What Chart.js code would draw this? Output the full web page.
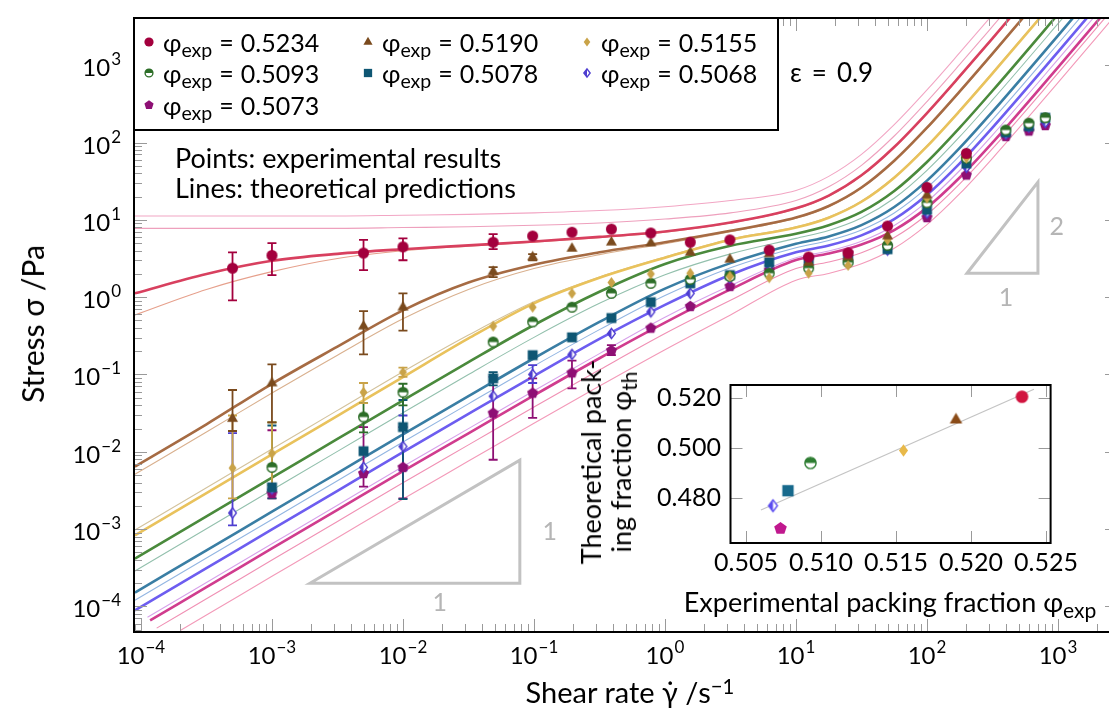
<!DOCTYPE html>
<html><head><meta charset="utf-8">
<script src="https://cdn.jsdelivr.net/npm/chart.js@4.4.1/dist/chart.umd.min.js"></script>
<style>
html,body{margin:0;padding:0;background:#fff;overflow:hidden;}
#wrap{position:relative;width:1109px;height:712px;overflow:hidden;font-family:Lato,"DejaVu Sans",sans-serif;color:#000;background:#fff;}
canvas{position:absolute;}
.t{position:absolute;white-space:nowrap;line-height:1;}
sub{font-size:0.78em;vertical-align:baseline;position:relative;top:0.28em;}
sup{font-size:0.7em;vertical-align:baseline;position:relative;top:-0.45em;}
#legend{position:absolute;left:133px;top:17px;width:646px;height:114px;box-sizing:border-box;border:2px solid #000;background:#fff;}
.li{position:absolute;font-size:25px;white-space:nowrap;transform:translateY(-50%);line-height:1;}
.lm{transform:translate(-50%,-50%);}
.eq{margin:0 7px;}
.eq2{margin:0 10px;}
</style></head>
<body><div id="wrap">
<canvas id="main" width="1130" height="712" style="left:0;top:0"></canvas>
<canvas id="inset" width="549" height="270" style="left:560px;top:370px"></canvas>
<div id="legend"></div>
<div class="t" style="left:790px;top:72px;font-size:26px;transform:translateY(-50%)">ε<span class="eq2">=</span>0.9</div>
<div class="t" style="left:175px;top:157px;font-size:27px;transform:translateY(-50%)">Points: experimental results</div>
<div class="t" style="left:175px;top:187px;font-size:27px;transform:translateY(-50%)">Lines: theoretical predictions</div>
<div class="t" style="left:32px;top:324px;font-size:30px;transform:translate(-50%,-50%) rotate(-90deg)">Stress σ /Pa</div>
<div class="t" style="left:630px;top:691px;font-size:29px;transform:translate(-50%,-50%)">Shear rate γ̇ /s<sup>−1</sup></div>
<div class="t" style="left:890px;top:601px;font-size:27px;transform:translate(-50%,-50%)">Experimental packing fraction φ<sub>exp</sub></div>
<div class="t" style="left:607px;top:462px;font-size:27px;transform:translate(-50%,-50%) rotate(-90deg);text-align:center;line-height:30px">Theoretical pack-<br>ing fraction φ<sub>th</sub></div>
</div>
<script>
// ---------------- DATA ----------------
// experimental shear rates (s^-1)
const DATA_X = [5e-4,1e-3,5e-3,1e-2,0.0488,0.0977,0.195,0.39,0.78,1.56,3.13,6.25,12.5,25,50,100,200,400,600,800];
const PHI_EXP = [0.5234,0.5190,0.5155,0.5093,0.5078,0.5068,0.5073];
const PHI_TH  = [0.5206,0.5113,0.4991,0.4941,0.4830,0.4770,0.4679];

const RED_Y = [2.37,3.47,3.72,4.47,5.13,6.17,6.92,7.59,6.76,5.13,5.50,4.07,3.31,3.72,8.32,26.3,72.4,null,null,null];
const RED_LO = [0.91,1.93,2.24,3.00,4.17,null,null,null,null,null,null,null,null,null,null,null,null,null,null,null];
const RED_HI = [3.80,5.00,5.50,5.75,6.53,null,null,null,null,null,null,null,null,null,null,null,null,null,null,null];

const BROWN_Y = [0.0269,0.0776,0.422,0.741,2.14,3.31,4.27,5.13,5.01,3.80,3.09,3.63,2.82,3.31,6.17,20.9,69.2,null,null,null];
const BROWN_LO = [0.0186,0.024,0.182,0.37,1.82,3.0,null,null,null,null,null,null,null,null,null,null,null,null,null,null];
const BROWN_HI = [0.063,0.135,0.66,1.12,2.45,3.6,null,null,null,null,null,null,null,null,null,null,null,null,null,null];

const YELLOW_Y = [0.00617,0.00955,0.0589,0.107,0.422,0.741,1.12,1.55,2.00,2.04,1.86,1.78,2.04,2.57,5.50,19.1,63.1,null,null,null];
const YELLOW_LO = [0.0025,0.0037,0.0427,0.093,null,null,null,null,null,null,null,null,null,null,null,null,null,null,null,null];
const YELLOW_HI = [0.0295,0.024,0.0776,0.123,null,null,null,null,null,null,null,null,null,null,null,null,null,null,null,null];

const GREEN_Y = [null,0.0063,0.0282,0.0589,0.263,0.479,0.741,1.12,1.51,1.70,1.86,2.04,2.37,2.82,4.68,16.6,63.1,145,178,209];
const GREEN_LO = [null,0.0032,0.0178,0.0398,null,null,null,null,null,null,null,null,null,null,null,null,null,null,null,null];
const GREEN_HI = [null,0.024,0.0427,0.0759,null,null,null,null,null,null,null,null,null,null,null,null,null,null,null,null];

const TEAL_Y = [null,0.00347,0.0102,0.0209,0.0891,0.178,0.302,0.537,0.861,1.51,1.93,2.82,2.95,3.09,4.17,13.5,53.7,135,162,209];
const TEAL_LO = [null,0.0025,null,0.00245,0.0724,null,null,null,null,null,null,null,null,null,null,null,null,null,null,null];
const TEAL_HI = [null,0.0219,null,0.0468,0.107,null,null,null,null,null,null,null,null,null,null,null,null,null,null,null];

const PURPLE_Y = [0.00162,0.00331,0.0063,0.0117,0.0525,0.100,0.182,0.339,0.646,1.12,1.78,2.57,2.82,3.31,4.07,12.3,47.9,129,158,182];
const PURPLE_LO = [0.00112,null,null,0.00575,null,0.0776,null,null,null,null,null,null,null,null,null,null,null,null,null,null];
const PURPLE_HI = [0.0174,null,null,0.0295,null,0.132,null,null,null,null,null,null,null,null,null,null,null,null,null,null];

const MAGENTA_Y = [null,0.00288,0.00525,0.0063,0.0316,0.0575,0.105,0.204,0.398,0.759,1.38,2.24,3.16,3.72,4.47,10.7,38.0,120,141,166];
const MAGENTA_LO = [null,0.0025,0.00355,0.0025,0.0079,0.0275,0.066,0.178,null,null,null,null,null,null,null,null,null,null,null,null];
const MAGENTA_HI = [null,0.019,0.0209,0.0209,0.093,0.089,0.151,0.24,null,null,null,null,null,null,null,null,null,null,null,null];

// theory curves: log10(shear rate) grid and log10(stress) values
const LINE_LOGX = [-4.046,-3.5,-3,-2.5,-2,-1.5,-1,-0.5,0,0.5,1,1.25,1.5,1.75,2,2.25,2.5,3,3.5];
const LINE_RED     = [0.05,0.30,0.47,0.56,0.62,0.67,0.72,0.78,0.85,0.965,1.149,1.314,1.576,1.942,2.381,2.857,3.347,4.343,5.342];
const LINE_BROWN   = [-2.19,-1.644,-1.12,-0.64,-0.17,0.19,0.42,0.58,0.71,0.858,1.029,1.179,1.418,1.765,2.192,2.662,3.150,4.145,5.144];
const LINE_YELLOW  = [-3.08,-2.534,-2.034,-1.534,-1.034,-0.534,-0.08,0.25,0.51,0.743,0.90,1.028,1.234,1.545,1.950,2.409,2.893,3.885,4.884];
const LINE_GREEN   = [-3.38,-2.834,-2.334,-1.834,-1.334,-0.84,-0.36,0.07,0.43,0.665,0.82,0.930,1.102,1.373,1.748,2.192,2.669,3.658,4.656];
const LINE_TEAL    = [-3.82,-3.274,-2.774,-2.274,-1.774,-1.28,-0.79,-0.32,0.11,0.44,0.69,0.786,0.932,1.166,1.507,1.930,2.399,3.383,4.38];
const LINE_PURPLE  = [-4.05,-3.504,-3.004,-2.504,-2.004,-1.51,-1.02,-0.54,-0.10,0.29,0.58,0.668,0.799,1.008,1.324,1.731,2.192,3.171,4.168];
const LINE_MAGENTA = [null,-3.75,-3.25,-2.75,-2.25,-1.76,-1.27,-0.79,-0.33,0.10,0.48,0.564,0.681,0.868,1.158,1.547,1.998,2.972,3.968];
const START_MAGENTA = [-3.93,-4.18];
const LINE_T1  = [1.05,1.05,1.05,1.05,1.06,1.07,1.09,1.12,1.17,1.25,1.38,1.562,1.846,2.231,2.680,3.161,3.652,4.648,5.648];
const LINE_T2  = [0.89,0.89,0.89,0.89,0.90,0.91,0.93,0.96,1.01,1.09,1.25,1.428,1.705,2.084,2.530,3.009,3.501,4.496,5.496];
const LINE_T3  = [-0.23,0.10,0.33,0.50,0.60,0.66,0.71,0.77,0.84,0.96,1.14,1.305,1.568,1.935,2.374,2.85,3.34,4.336,5.336];
const LINE_T4  = [-2.29,-1.744,-1.24,-0.75,-0.28,0.10,0.37,0.55,0.69,0.845,1.02,1.169,1.408,1.755,2.182,2.652,3.14,4.135,5.135];
const LINE_T5  = [-3.01,-2.464,-1.964,-1.464,-0.964,-0.49,-0.06,0.26,0.52,0.753,0.91,1.038,1.244,1.555,1.96,2.419,2.903,3.895,4.894];
const LINE_T6  = [-3.54,-2.994,-2.494,-1.994,-1.494,-1.0,-0.52,-0.08,0.29,0.56,0.76,0.863,1.024,1.279,1.640,2.075,2.550,3.536,4.534];
const LINE_T7  = [-3.92,-3.374,-2.874,-2.374,-1.874,-1.38,-0.89,-0.42,0.02,0.38,0.64,0.732,0.869,1.089,1.416,1.831,2.296,3.277,4.274];
const LINE_T8  = [null,-3.69,-3.19,-2.69,-2.19,-1.70,-1.21,-0.73,-0.26,0.15,0.51,0.597,0.724,0.927,1.235,1.638,2.096,3.074,4.07];
const START_T8 = [-3.95,-4.14];
const LINE_T9  = [null,-3.90,-3.40,-2.90,-2.40,-1.91,-1.42,-0.94,-0.47,-0.04,0.37,0.454,0.575,0.771,1.069,1.465,1.920,2.896,3.892];
const START_T9 = [-3.88,-4.28];
const LINE_T10 = [null,-4.11,-3.61,-3.11,-2.61,-2.12,-1.63,-1.15,-0.68,-0.23,0.22,0.307,0.431,0.632,0.938,1.338,1.796,2.774,3.77];
const START_T10 = [-3.70,-4.31];

// axis decades
const X_TICK_EXP = [-4,-3,-2,-1,0,1,2,3];
const Y_TICK_EXP = [-4,-3,-2,-1,0,1,2,3];
const INSET_X_TICKS = [0.505,0.510,0.515,0.520,0.525];
const INSET_Y_TICKS = [0.480,0.500,0.520];
const FIT_X = [0.5060,0.5242];
const FIT_Y = [0.4753,0.5236];

// slope triangles (data coords) and their labels
const TRI_1 = [[1.95e-3,2.0e-4],[0.078,7.8e-3],[0.078,2.0e-4]];
const TRI_2 = [[202,2.04],[703,30.7],[703,2.04]];
const TRI_LABELS = [["1",0.132,9.1e-4],["1",0.0191,1.1e-4],["2",977,8.05],["1",401,0.97]];

// ---------------- STYLES ----------------
const FONT = '"Lato","DejaVu Sans",sans-serif';
const STYLE = [
 {shape:'circle', color:'#a3003d', inset:'#d1143f'},
 {shape:'triangle', color:'#7a4a1d', inset:'#8a4b17'},
 {shape:'diamond', color:'#c9a348', inset:'#e8b94a'},
 {shape:'halfcircle', color:'#2d6e28', inset:'#2e7d32'},
 {shape:'square', color:'#0e5673', inset:'#17698c'},
 {shape:'halfdiamond', color:'#4e3ed0', inset:'#5b4cf0'},
 {shape:'pentagon', color:'#8e0f74', inset:'#c0188e'}
];
const SERIES_Y = [RED_Y,BROWN_Y,YELLOW_Y,GREEN_Y,TEAL_Y,PURPLE_Y,MAGENTA_Y];
const SERIES_LO = [RED_LO,BROWN_LO,YELLOW_LO,GREEN_LO,TEAL_LO,PURPLE_LO,MAGENTA_LO];
const SERIES_HI = [RED_HI,BROWN_HI,YELLOW_HI,GREEN_HI,TEAL_HI,PURPLE_HI,MAGENTA_HI];

const THEORY = [
 {y:LINE_RED, color:'#d8405f', w:2.6},
 {y:LINE_BROWN, color:'#a66b43', w:2.6},
 {y:LINE_YELLOW, color:'#e9c25c', w:2.6},
 {y:LINE_GREEN, color:'#4a8a3c', w:2.6},
 {y:LINE_TEAL, color:'#3a7ea4', w:2.6},
 {y:LINE_PURPLE, color:'#6d5df0', w:2.6},
 {y:LINE_MAGENTA, start:START_MAGENTA, color:'#d03c8e', w:2.6},
 {y:LINE_T1, color:'#f2a6c4', w:1.1},
 {y:LINE_T2, color:'#eea0bd', w:1.1},
 {y:LINE_T3, color:'#e6a08c', w:1.1},
 {y:LINE_T4, color:'#d9b08e', w:1.1},
 {y:LINE_T5, color:'#d3c29c', w:1.1},
 {y:LINE_T6, color:'#93c0ad', w:1.1},
 {y:LINE_T7, color:'#93b6e2', w:1.1},
 {y:LINE_T8, start:START_T8, color:'#d7a2ea', w:1.1},
 {y:LINE_T9, start:START_T9, color:'#f090b4', w:1.1},
 {y:LINE_T10, start:START_T10, color:'#f39ab9', w:1.1}
];

function makeMarker(shape, color, r){
  const s = Math.ceil(2*r+4), c = document.createElement('canvas');
  c.width = s; c.height = s;
  const g = c.getContext('2d'), m = s/2;
  g.fillStyle = color; g.strokeStyle = color; g.lineWidth = 1.4;
  const poly = pts => { g.beginPath(); pts.forEach((p,i)=> i ? g.lineTo(p[0],p[1]) : g.moveTo(p[0],p[1])); g.closePath(); };
  if (shape==='circle'){ g.beginPath(); g.arc(m,m,r,0,2*Math.PI); g.fill(); }
  else if (shape==='triangle'){ const R=r*1.15; poly([[m,m-R],[m+R*0.866,m+R*0.5],[m-R*0.866,m+R*0.5]]); g.fill(); }
  else if (shape==='diamond'){ poly([[m,m-r],[m+r*0.72,m],[m,m+r],[m-r*0.72,m]]); g.fill(); }
  else if (shape==='square'){ const h=r*0.9; g.fillRect(m-h,m-h,2*h,2*h); }
  else if (shape==='pentagon'){ const R=r*1.05, pts=[]; for(let k=0;k<5;k++){ const a=-Math.PI/2+k*2*Math.PI/5; pts.push([m+R*Math.cos(a), m+R*Math.sin(a)]); } poly(pts); g.fill(); }
  else if (shape==='halfcircle'){ const R=r-0.7; g.beginPath(); g.arc(m,m,R,0,2*Math.PI); g.fillStyle='#fff'; g.fill(); g.fillStyle=color; g.beginPath(); g.arc(m,m,R,Math.PI,2*Math.PI); g.closePath(); g.fill(); g.beginPath(); g.arc(m,m,R,0,2*Math.PI); g.stroke(); }
  else if (shape==='halfdiamond'){ const R=r-0.4, w=R*0.75; poly([[m,m-R],[m+w,m],[m,m+R],[m-w,m]]); g.fillStyle='#fff'; g.fill(); g.fillStyle=color; poly([[m,m-R],[m,m+R],[m-w,m]]); g.fill(); poly([[m,m-R],[m+w,m],[m,m+R],[m-w,m]]); g.stroke(); }
  return c;
}

// ---------------- LEGEND (HTML) ----------------
const wrap = document.getElementById('wrap');
const LEG_MX = [149,368,587], LEG_TX = [163,382,601], LEG_CY = [42,73,105];
PHI_EXP.forEach((p,i)=>{
  const r = Math.floor(i/3), c = i%3;
  const mk = makeMarker(STYLE[i].shape, STYLE[i].color, 4.6);
  mk.className = 'lm'; mk.style.left = LEG_MX[c]+'px'; mk.style.top = LEG_CY[r]+'px';
  wrap.appendChild(mk);
  const t = document.createElement('div');
  t.className = 'li'; t.style.left = LEG_TX[c]+'px'; t.style.top = LEG_CY[r]+'px';
  t.innerHTML = 'φ<sub>exp</sub><span class="eq">=</span>' + p.toFixed(4);
  wrap.appendChild(t);
});

// ---------------- MAIN CHART ----------------
function supText(e){ return e<0 ? '\u2212'+(-e) : String(e); }
function drawPow(ctx, e, x, y, align){
  const big = '24px '+FONT, small = '17px '+FONT, es = supText(e);
  ctx.font = big; const w1 = ctx.measureText('10').width;
  ctx.font = small; const w2 = ctx.measureText(es).width;
  const tot = w1 + 1 + w2;
  const x0 = align==='center' ? x - tot/2 : x - tot;
  ctx.textAlign = 'left'; ctx.textBaseline = 'alphabetic'; ctx.fillStyle = '#000';
  ctx.font = big; ctx.fillText('10', x0, y);
  ctx.font = small; ctx.fillText(es, x0 + w1 + 1, y - 11);
}

const NPTS = SERIES_Y.length;
const mainPlugin = {
  id:'mainPlugin',
  beforeDatasetsDraw(chart){
    const ctx = chart.ctx, xs = chart.scales.x, ys = chart.scales.y;
    ctx.save();
    ctx.strokeStyle = '#c2c2c2'; ctx.lineWidth = 3; ctx.lineJoin = 'miter';
    [TRI_1, TRI_2].forEach(tri=>{
      ctx.beginPath();
      tri.forEach((p,i)=>{ const px=xs.getPixelForValue(p[0]), py=ys.getPixelForValue(p[1]); i?ctx.lineTo(px,py):ctx.moveTo(px,py); });
      ctx.closePath(); ctx.stroke();
    });
    ctx.fillStyle = '#b5b5b5'; ctx.font = '25px '+FONT; ctx.textAlign='center'; ctx.textBaseline='middle';
    TRI_LABELS.forEach(l=> ctx.fillText(l[0], xs.getPixelForValue(l[1]), ys.getPixelForValue(l[2])));
    ctx.restore();
  },
  beforeDatasetDraw(chart, args){
    if (args.index !== NPTS-1) return;
    const ctx = chart.ctx, xs = chart.scales.x, ys = chart.scales.y, a = chart.chartArea;
    ctx.save();
    ctx.beginPath(); ctx.rect(a.left, a.top, a.right-a.left, a.bottom-a.top); ctx.clip();
    ctx.lineWidth = 1.8;
    for (let i=NPTS-1;i>=0;i--){
      ctx.strokeStyle = STYLE[i].color;
      DATA_X.forEach((x,j)=>{
        const lo = SERIES_LO[i][j], hi = SERIES_HI[i][j];
        if (lo===null || hi===null) return;
        const px = xs.getPixelForValue(x), p1 = ys.getPixelForValue(lo), p2 = ys.getPixelForValue(hi);
        ctx.beginPath();
        ctx.moveTo(px,p1); ctx.lineTo(px,p2);
        ctx.moveTo(px-4.5,p1); ctx.lineTo(px+4.5,p1);
        ctx.moveTo(px-4.5,p2); ctx.lineTo(px+4.5,p2);
        ctx.stroke();
      });
    }
    ctx.restore();
  },
  afterDraw(chart){
    const ctx = chart.ctx, xs = chart.scales.x, ys = chart.scales.y, a = chart.chartArea;
    ctx.save();
    ctx.strokeStyle = '#9a9a9a'; ctx.lineWidth = 1;
    for (let e=-5;e<=4;e++) for (let k=1;k<=9;k++){
      const v = k*Math.pow(10,e), len = k===1 ? 13 : 8;
      if (v>=xs.min && v<=xs.max){
        const px = Math.round(xs.getPixelForValue(v))+0.5;
        ctx.beginPath(); ctx.moveTo(px,a.bottom); ctx.lineTo(px,a.bottom-len); ctx.moveTo(px,a.top); ctx.lineTo(px,a.top+len); ctx.stroke();
      }
      if (v>=ys.min && v<=ys.max){
        const py = Math.round(ys.getPixelForValue(v))+0.5;
        ctx.beginPath(); ctx.moveTo(a.left,py); ctx.lineTo(a.left+len,py); ctx.moveTo(a.right,py); ctx.lineTo(a.right-len,py); ctx.stroke();
      }
    }
    ctx.strokeStyle = '#000'; ctx.lineWidth = 2;
    ctx.strokeRect(a.left, a.top, a.right-a.left, a.bottom-a.top);
    X_TICK_EXP.forEach(e=> drawPow(ctx, e, xs.getPixelForValue(Math.pow(10,e)), 664, 'center'));
    Y_TICK_EXP.forEach(e=> drawPow(ctx, e, 121, ys.getPixelForValue(Math.pow(10,e))+11, 'right'));
    ctx.restore();
  }
};

const datasets = [];
SERIES_Y.forEach((ys,i)=>{
  const pts = [];
  DATA_X.forEach((x,j)=>{ if (ys[j]!==null) pts.push({x:x, y:ys[j]}); });
  datasets.push({data:pts, showLine:false, pointStyle:makeMarker(STYLE[i].shape, STYLE[i].color, 5.5), pointRadius:5, pointHoverRadius:5});
});
THEORY.forEach(l=>{
  const pts = [];
  if (l.start) pts.push({x:Math.pow(10,l.start[0]), y:Math.pow(10,l.start[1])});
  l.y.forEach((v,i)=>{ if (v!==null) pts.push({x:Math.pow(10,LINE_LOGX[i]), y:Math.pow(10,v)}); });
  datasets.push({data:pts, showLine:true, borderColor:l.color, borderWidth:l.w, pointRadius:0, fill:false, cubicInterpolationMode:'monotone'});
});

new Chart(document.getElementById('main'), {
  type:'scatter',
  data:{datasets},
  options:{
    responsive:false, animation:false, events:[],
    layout:{padding:{left:134, top:18, right:12, bottom:80}},
    elements:{line:{capBezierPoints:false}},
    scales:{
      x:{type:'logarithmic', min:Math.pow(10,-4.053), max:Math.pow(10,3.458), display:false},
      y:{type:'logarithmic', min:Math.pow(10,-4.33), max:Math.pow(10,3.61), display:false}
    },
    plugins:{legend:{display:false}, tooltip:{enabled:false}}
  },
  plugins:[mainPlugin]
});

// ---------------- INSET ----------------
const insetPlugin = {
  id:'insetPlugin',
  afterDraw(chart){
    const ctx = chart.ctx, xs = chart.scales.x, ys = chart.scales.y, a = chart.chartArea;
    ctx.save();
    ctx.strokeStyle = '#9a9a9a'; ctx.lineWidth = 1;
    INSET_X_TICKS.forEach(v=>{ const px=Math.round(xs.getPixelForValue(v))+0.5; ctx.beginPath(); ctx.moveTo(px,a.bottom); ctx.lineTo(px,a.bottom-12); ctx.moveTo(px,a.top); ctx.lineTo(px,a.top+12); ctx.stroke(); });
    INSET_Y_TICKS.forEach(v=>{ const py=Math.round(ys.getPixelForValue(v))+0.5; ctx.beginPath(); ctx.moveTo(a.left,py); ctx.lineTo(a.left+12,py); ctx.moveTo(a.right,py); ctx.lineTo(a.right-12,py); ctx.stroke(); });
    ctx.strokeStyle = '#000'; ctx.lineWidth = 2;
    ctx.strokeRect(a.left, a.top, a.right-a.left, a.bottom-a.top);
    ctx.fillStyle = '#000'; ctx.font = '25px '+FONT;
    ctx.textAlign = 'center'; ctx.textBaseline = 'middle';
    INSET_X_TICKS.forEach(v=> ctx.fillText(v.toFixed(3), xs.getPixelForValue(v), 193));
    ctx.textAlign = 'right';
    INSET_Y_TICKS.forEach(v=> ctx.fillText(v.toFixed(3), 161, ys.getPixelForValue(v)));
    ctx.restore();
  }
};
new Chart(document.getElementById('inset'), {
  type:'scatter',
  data:{datasets:[
    {data:PHI_EXP.map((x,i)=>({x:x, y:PHI_TH[i]})), showLine:false,
     pointStyle:STYLE.map(s=>makeMarker(s.shape, s.inset, 6.3)), pointRadius:5},
    {data:FIT_X.map((x,i)=>({x:x, y:FIT_Y[i]})), showLine:true, borderColor:'#c4c4c4', borderWidth:1.3, pointRadius:0}
  ]},
  options:{
    responsive:false, animation:false, events:[],
    layout:{padding:{left:170.5, top:15, right:58.4, bottom:97}},
    scales:{
      x:{type:'linear', min:0.50397, max:0.52531, display:false},
      y:{type:'linear', min:0.4621, max:0.5253, display:false}
    },
    plugins:{legend:{display:false}, tooltip:{enabled:false}}
  },
  plugins:[insetPlugin]
});
</script>
</body></html>
